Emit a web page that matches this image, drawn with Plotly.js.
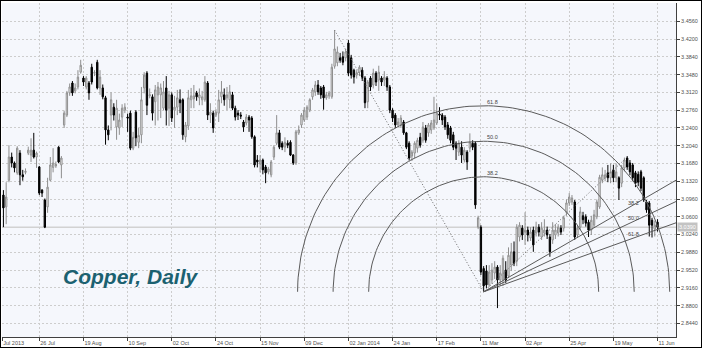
<!DOCTYPE html>
<html>
<head>
<meta charset="utf-8">
<script src="https://cdn.plot.ly/plotly-3.0.1.min.js"></script>
<style>
  html, body { margin: 0; padding: 0; background: #ffffff; }
  #chart { width: 700px; height: 346px; border: 1px solid #000000; }
</style>
</head>
<body>
<div id="chart"></div>
<script>
// ---- Daily OHLC for copper (bars from the first visible bar, index 3) ----
const firstBar = 3;
const open = [
3.104,3.080,3.134,3.181,3.169,3.149,3.189,3.145,3.150,3.189,3.185,3.195,3.181,3.161,3.114,3.094,3.080,3.134,3.160,3.163,3.201,3.165,3.246,3.266,3.311,3.331,3.315,3.323,3.353,3.341,3.323,3.331,3.363,3.351,3.373,3.321,3.321,3.301,3.236,3.266,3.282,
3.242,3.240,3.262,3.276,3.262,3.270,3.199,3.272,3.211,3.226,3.321,3.351,3.305,3.303,3.293,3.307,3.307,3.280,3.321,3.280,3.307,3.276,3.282,3.297,3.297,3.222,3.244,3.297,3.299,3.311,3.301,3.297,3.297,3.331,3.266,3.270,3.266,3.270,3.303,3.307,
3.301,3.297,3.307,3.280,3.270,3.266,3.252,3.250,3.262,3.260,3.222,3.175,3.167,3.175,3.161,3.151,3.145,3.181,3.209,3.230,3.209,3.201,3.209,3.211,3.185,3.169,3.230,3.246,3.256,3.262,3.276,3.303,3.313,3.327,3.321,3.323,3.301,3.305,3.303,
3.365,3.372,3.382,3.384,3.382,3.412,3.382,3.357,3.347,3.353,3.357,3.341,3.293,3.341,3.327,3.351,3.337,3.341,3.337,3.341,3.323,3.276,3.266,3.246,3.246,3.252,3.230,3.209,3.183,3.189,3.199,3.221,3.215,3.240,3.230,3.236,3.240,3.250,3.268,3.266,3.262,3.246,3.240,3.226,3.209,3.191,3.201,3.175,3.191,3.199,3.209,3.209,
3.039,3.039,2.955,2.950,2.922,2.932,2.946,2.958,2.932,2.932,2.952,2.940,2.962,2.989,2.970,3.019,3.037,3.029,3.033,3.017,3.033,3.027,3.039,3.019,3.027,3.033,3.019,3.013,3.023,3.027,3.037,3.037,3.069,3.088,3.090,3.090,3.023,3.039,3.062,3.060,3.049,3.033,3.043,3.060,3.080,
3.134,3.139,3.149,3.139,3.155,3.139,3.139,3.128,3.159,3.179,3.169,3.165,3.149,3.146,3.151,3.139,3.090,3.088,3.053,3.035,3.049];
const high = [
3.114,3.130,3.205,3.190,3.172,3.203,3.195,3.155,3.158,3.202,3.219,3.230,3.192,3.163,3.116,3.097,3.139,3.181,3.199,3.172,3.203,3.183,3.275,3.315,3.330,3.335,3.330,3.357,3.378,3.345,3.345,3.335,3.370,3.357,3.378,3.357,3.328,3.305,3.245,3.312,3.290,
3.297,3.269,3.288,3.290,3.269,3.275,3.232,3.276,3.240,3.323,3.353,3.355,3.320,3.308,3.327,3.333,3.330,3.335,3.345,3.315,3.312,3.305,3.317,3.318,3.300,3.252,3.317,3.321,3.327,3.315,3.320,3.315,3.345,3.335,3.290,3.275,3.278,3.317,3.335,3.320,
3.323,3.327,3.313,3.285,3.276,3.272,3.256,3.268,3.266,3.264,3.225,3.185,3.185,3.178,3.165,3.161,3.175,3.205,3.266,3.236,3.213,3.221,3.215,3.215,3.187,3.236,3.245,3.270,3.282,3.286,3.300,3.321,3.335,3.337,3.325,3.327,3.313,3.315,3.370,
3.438,3.405,3.392,3.395,3.400,3.418,3.388,3.360,3.357,3.367,3.363,3.345,3.337,3.345,3.360,3.355,3.366,3.345,3.355,3.345,3.327,3.280,3.270,3.260,3.266,3.256,3.232,3.213,3.195,3.213,3.220,3.230,3.252,3.246,3.250,3.256,3.303,3.290,3.282,3.270,3.266,3.252,3.244,3.232,3.213,3.215,3.213,3.201,3.195,3.229,3.215,3.213,
3.062,3.043,2.960,2.962,2.962,2.966,2.970,2.962,2.962,2.982,2.970,2.998,3.007,3.010,3.045,3.049,3.043,3.069,3.040,3.039,3.040,3.050,3.045,3.049,3.055,3.040,3.025,3.049,3.045,3.045,3.043,3.062,3.095,3.108,3.104,3.094,3.041,3.080,3.070,3.065,3.054,3.062,3.074,3.095,3.145,
3.160,3.155,3.165,3.168,3.165,3.168,3.142,3.165,3.180,3.183,3.175,3.169,3.153,3.152,3.155,3.142,3.094,3.092,3.058,3.052,3.055];
const low = [
3.039,3.045,3.130,3.160,3.150,3.145,3.124,3.133,3.146,3.185,3.171,3.178,3.159,3.104,3.100,3.037,3.068,3.132,3.150,3.159,3.169,3.138,3.240,3.262,3.305,3.305,3.310,3.318,3.350,3.325,3.318,3.297,3.328,3.345,3.318,3.307,3.298,3.206,3.215,3.235,3.255,
3.216,3.226,3.242,3.270,3.232,3.195,3.195,3.203,3.199,3.209,3.310,3.266,3.300,3.255,3.245,3.255,3.260,3.276,3.245,3.244,3.252,3.240,3.266,3.270,3.216,3.211,3.236,3.280,3.280,3.295,3.286,3.286,3.293,3.256,3.250,3.230,3.262,3.252,3.290,3.285,
3.276,3.280,3.276,3.255,3.256,3.258,3.232,3.245,3.232,3.218,3.160,3.160,3.150,3.146,3.128,3.146,3.140,3.175,3.205,3.197,3.195,3.191,3.199,3.183,3.165,3.165,3.226,3.240,3.252,3.256,3.272,3.297,3.305,3.307,3.299,3.277,3.297,3.299,3.299,
3.360,3.365,3.372,3.367,3.375,3.345,3.340,3.330,3.340,3.345,3.335,3.280,3.280,3.315,3.320,3.325,3.315,3.325,3.325,3.315,3.270,3.252,3.240,3.242,3.240,3.226,3.197,3.175,3.173,3.179,3.190,3.200,3.210,3.210,3.222,3.228,3.236,3.246,3.256,3.246,3.236,3.218,3.209,3.195,3.175,3.183,3.169,3.170,3.155,3.191,3.195,3.076,
3.035,2.942,2.908,2.915,2.918,2.924,2.934,2.875,2.920,2.920,2.926,2.936,2.950,2.960,2.960,3.010,3.013,3.003,3.010,3.011,2.989,3.020,3.020,3.013,3.020,3.015,2.979,3.005,3.015,3.020,3.023,3.030,3.062,3.082,3.084,3.013,3.017,3.033,3.045,3.040,3.019,3.023,3.037,3.055,3.076,
3.128,3.132,3.130,3.128,3.130,3.130,3.094,3.120,3.152,3.155,3.144,3.132,3.120,3.122,3.112,3.090,3.068,3.020,3.018,3.020,3.030];
const close = [
3.078,3.100,3.181,3.169,3.159,3.199,3.145,3.141,3.152,3.195,3.195,3.181,3.189,3.108,3.108,3.039,3.120,3.165,3.169,3.166,3.171,3.179,3.270,3.311,3.323,3.311,3.321,3.343,3.367,3.333,3.341,3.311,3.333,3.352,3.321,3.343,3.303,3.236,3.226,3.297,3.266,
3.280,3.256,3.280,3.282,3.260,3.199,3.221,3.220,3.225,3.297,3.347,3.286,3.307,3.270,3.317,3.323,3.321,3.313,3.276,3.307,3.260,3.282,3.301,3.291,3.226,3.246,3.301,3.305,3.305,3.303,3.307,3.303,3.333,3.266,3.272,3.240,3.272,3.297,3.313,3.297,
3.307,3.313,3.280,3.262,3.266,3.264,3.242,3.262,3.256,3.222,3.165,3.171,3.175,3.155,3.149,3.157,3.171,3.201,3.230,3.201,3.201,3.211,3.205,3.185,3.169,3.232,3.236,3.266,3.276,3.282,3.297,3.317,3.327,3.313,3.307,3.301,3.307,3.311,3.363,
3.400,3.394,3.377,3.373,3.394,3.351,3.347,3.343,3.352,3.363,3.341,3.291,3.333,3.323,3.351,3.333,3.353,3.333,3.343,3.323,3.276,3.260,3.246,3.252,3.260,3.230,3.201,3.179,3.191,3.209,3.215,3.205,3.242,3.215,3.246,3.250,3.256,3.270,3.266,3.256,3.242,3.226,3.215,3.201,3.199,3.209,3.185,3.195,3.171,3.211,3.201,3.084,
3.058,2.948,2.920,2.922,2.948,2.952,2.958,2.932,2.946,2.976,2.932,2.982,2.989,2.966,3.039,3.043,3.023,3.033,3.023,3.029,3.003,3.039,3.029,3.037,3.033,3.023,2.989,3.033,3.033,3.039,3.029,3.058,3.088,3.100,3.098,3.019,3.037,3.070,3.054,3.047,3.033,3.053,3.064,3.090,3.140,
3.145,3.145,3.139,3.151,3.139,3.151,3.118,3.159,3.175,3.161,3.151,3.139,3.128,3.130,3.118,3.094,3.074,3.043,3.043,3.043,3.039];

// ---- axis labels ----
const tickBars  = [2.6, 16, 32, 48, 64, 80, 96, 112, 128, 144, 160, 176, 192, 208, 224, 240];
const tickText  = ["Jul 2013","26 Jul","19 Aug","10 Sep","02 Oct","24 Oct","15 Nov","09 Dec","02 Jan 2014","24 Jan","17 Feb","11 Mar","02 Apr","25 Apr","19 May","11 Jun"];
const priceTicks = [2.8440,2.8800,2.9160,2.9520,2.9880,3.0240,3.0600,3.0960,3.1320,3.1680,3.2040,3.2400,3.2760,3.3120,3.3480,3.3840,3.4200,3.4560];

// ---- Fibonacci tools (anchor points) ----
const fibLevels = [0.382, 0.5, 0.618];
const fibLabels = ["38.2", "50.0", "61.8"];
const arcBars = [123, 177];      // high -> low
const arcPrices = [3.438, 2.908];
const fanBars = [177, 229];      // low -> high
const fanPrices = [2.908, 3.181];

// ---- layout geometry ----
const W = 700, H = 346;
const M = {l: 1, r: 25, t: 2, b: 10};
const xRange = [2.486, 246.69];
const yRange = [2.8164, 3.4931];
const pxX = (W - M.l - M.r) / (xRange[1] - xRange[0]);
const pxY = (H - M.t - M.b) / (yRange[1] - yRange[0]);

const xs = close.map((_, k) => k + firstBar);
const lastClose = close[close.length - 1];

const traces = [];
traces.push({
  type: 'candlestick', x: xs, open: open, high: high, low: low, close: close,
  increasing: {line: {color: '#8e8e8e', width: 1}, fillcolor: '#ffffff'},
  decreasing: {line: {color: '#000000', width: 1}, fillcolor: '#000000'},
  whiskerwidth: 0, hoverinfo: 'none', showlegend: false
});

const guide = {color: '#5a5a5a', width: 1};
const dotted = {color: '#6a6a6a', width: 1, dash: '1px,2px'};
const annotations = [];

// Fibonacci arcs (circles in screen space, centred on the low)
const dxp = (arcBars[1] - arcBars[0]) * pxX;
const dyp = (arcPrices[0] - arcPrices[1]) * pxY;
const R = Math.sqrt(dxp * dxp + dyp * dyp);
fibLevels.forEach((lv, k) => {
  const r = R * lv, ax = [], ay = [];
  for (let s = 0; s <= 120; s++) {
    const t = Math.PI * s / 120;
    ax.push(arcBars[1] + r * Math.cos(t) / pxX);
    ay.push(arcPrices[1] + r * Math.sin(t) / pxY);
  }
  traces.push({type: 'scatter', mode: 'lines', x: ax, y: ay, line: guide, hoverinfo: 'skip', showlegend: false});
  annotations.push({x: arcBars[1], y: arcPrices[1] + r / pxY, xref: 'x', yref: 'y', text: fibLabels[k],
    showarrow: false, xanchor: 'left', yanchor: 'bottom', xshift: 1, yshift: -1,
    font: {family: 'Liberation Sans, Arial, sans-serif', size: 5.5, color: '#444'}});
});
traces.push({type: 'scatter', mode: 'lines', x: arcBars, y: arcPrices,
  line: dotted, hoverinfo: 'skip', showlegend: false});

// Fibonacci fan from the low
fibLevels.forEach((lv, k) => {
  const pAt = fanPrices[1] - lv * (fanPrices[1] - fanPrices[0]);
  const slope = (pAt - fanPrices[0]) / (fanBars[1] - fanBars[0]);
  traces.push({type: 'scatter', mode: 'lines', x: [fanBars[0], xRange[1]],
    y: [fanPrices[0], fanPrices[0] + slope * (xRange[1] - fanBars[0])],
    line: guide, hoverinfo: 'skip', showlegend: false});
  annotations.push({x: fanBars[1], y: pAt, xref: 'x', yref: 'y', text: fibLabels[k],
    showarrow: false, xanchor: 'left', yanchor: 'bottom', xshift: -1, yshift: 1,
    font: {family: 'Liberation Sans, Arial, sans-serif', size: 5.5, color: '#444'}});
});
traces.push({type: 'scatter', mode: 'lines', x: fanBars, y: fanPrices,
  line: dotted, hoverinfo: 'skip', showlegend: false});

annotations.push({xref: 'paper', yref: 'paper', x: 0.088, y: 0.18, xanchor: 'left', yanchor: 'middle',
  text: '<b><i>Copper, Daily</i></b>', showarrow: false,
  font: {family: 'Liberation Sans, Arial, sans-serif', size: 21, color: '#1b6170'}});
annotations.push({xref: 'paper', yref: 'y', x: 1, y: lastClose, xanchor: 'left', yanchor: 'middle', xshift: 1,
  text: lastClose.toFixed(4), showarrow: false, bgcolor: '#c3c3c3', borderpad: 1,
  font: {family: 'Liberation Sans, Arial, sans-serif', size: 5.5, color: '#ffffff'}});

const tickFont = {family: 'Liberation Sans, Arial, sans-serif', size: 5.5, color: '#505050'};
const layout = {
  width: W, height: H, margin: M,
  paper_bgcolor: '#ffffff', plot_bgcolor: '#f5f7fc',
  showlegend: false, dragmode: false,
  xaxis: {
    range: xRange, tickmode: 'array', tickvals: tickBars, ticktext: tickText, tickangle: 0,
    ticks: 'outside', ticklen: 3, tickcolor: '#404040', ticklabelposition: 'outside right',
    tickfont: tickFont, showline: true, linecolor: '#404040', linewidth: 1,
    showgrid: true, gridcolor: '#cdcdcd', griddash: '2px,2px', gridwidth: 1,
    zeroline: false, rangeslider: {visible: false}, fixedrange: true
  },
  yaxis: {
    range: yRange, side: 'right', tickmode: 'array', tickvals: priceTicks,
    ticktext: priceTicks.map(v => v.toFixed(4)),
    ticks: 'outside', ticklen: 3, tickcolor: '#404040', tickfont: tickFont,
    showline: true, linecolor: '#404040', linewidth: 1,
    showgrid: true, gridcolor: '#cdcdcd', griddash: '2px,2px', gridwidth: 1,
    zeroline: false, fixedrange: true
  },
  shapes: [{type: 'line', xref: 'paper', yref: 'y', x0: 0, x1: 1, y0: lastClose, y1: lastClose,
    line: {color: '#d2d2d2', width: 1.5}, layer: 'below'}],
  annotations: annotations
};

Plotly.newPlot('chart', traces, layout, {staticPlot: true, displayModeBar: false});
</script>
</body>
</html>
